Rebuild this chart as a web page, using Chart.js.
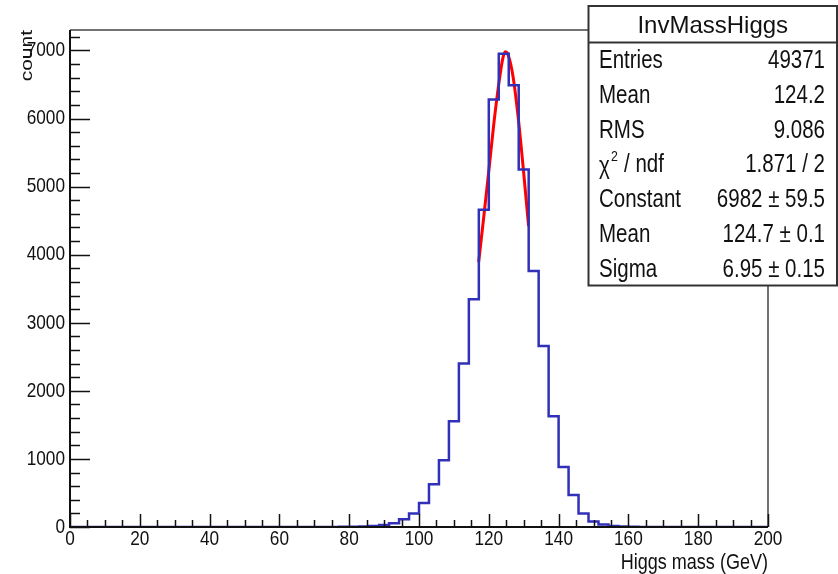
<!DOCTYPE html>
<html>
<head>
<meta charset="utf-8">
<script src="https://cdn.jsdelivr.net/npm/chart.js@4"></script>
<style>
  body { margin: 0; background: #fff; }
  #wrap { width: 838px; height: 574px; }
</style>
</head>
<body>
<div id="wrap"><canvas id="higgs" width="838" height="574"></canvas></div>
<script>
const SANS = '"Liberation Sans", Arial, sans-serif';
const SQUEEZE = 0.82; // the ROOT picture is squashed sideways

// histogram: 70 bins from 0 to 200 GeV
const nBins = 70;
const xMin = 0;
const xMax = 200;
const counts = [
  0, 0, 0, 0, 0, 0, 0, 0, 0, 0,
  0, 0, 0, 0, 0, 0, 0, 0, 0, 0,
  0, 0, 0, 0, 0, 0, 1, 2, 4, 8,
  15, 30, 55, 113, 197, 352, 627, 980, 1552, 2400,
  3344, 4660, 6280, 6952, 6490, 5250, 3760, 2660, 1625, 880,
  470, 197, 80, 35, 15, 6, 3, 1, 0, 0,
  0, 0, 0, 0, 0, 0, 0, 0, 0, 0
];

// gaussian fit curve
const fitX = [117.1, 118.5, 120, 121.5, 123, 124, 124.7, 125.5, 127, 128.5, 130, 131.4];
const fitY = [3890, 4530, 5230, 5950, 6560, 6880, 6980, 6940, 6600, 5980, 5200, 4420];

const yTicks = [0, 1000, 2000, 3000, 4000, 5000, 6000, 7000];
const xTicks = [0, 20, 40, 60, 80, 100, 120, 140, 160, 180, 200];

const statTitle = 'InvMassHiggs';
const statLabels = ['Entries', 'Mean', 'RMS', 'chi2', 'Constant', 'Mean', 'Sigma'];
const statValues = ['49371', '124.2', '9.086', '1.871 / 2', '6982 \u00b1 59.5', '124.7 \u00b1 0.1', '6.95 \u00b1 0.15'];

const edges = [];
for (let i = 0; i <= nBins; i++) edges.push(xMin + i * (xMax - xMin) / nBins);
const histPts = counts.map((c, i) => ({x: edges[i], y: c}));
histPts.push({x: xMax, y: counts[nBins - 1]});
const fitPts = fitX.map((x, i) => ({x: x, y: fitY[i]}));

function squeezed(ctx, text, x, y, align, size) {
  ctx.save();
  ctx.translate(x, y);
  ctx.scale(SQUEEZE, 1);
  ctx.font = size + 'px ' + SANS;
  ctx.textAlign = align;
  ctx.fillText(text, 0, 0);
  ctx.restore();
}

const rootFrame = {
  id: 'rootFrame',
  afterDatasetsDraw(chart) {
    const {ctx, chartArea: a, scales: {x, y}} = chart;
    ctx.save();
    // frame
    ctx.strokeStyle = '#444';
    ctx.lineWidth = 1.5;
    ctx.beginPath();
    ctx.moveTo(a.left, a.top);
    ctx.lineTo(a.right, a.top);
    ctx.lineTo(a.right, a.bottom);
    ctx.stroke();
    // axes
    ctx.strokeStyle = '#111';
    ctx.lineWidth = 2;
    ctx.beginPath();
    ctx.moveTo(a.left, a.top);
    ctx.lineTo(a.left, a.bottom);
    ctx.lineTo(a.right, a.bottom);
    ctx.stroke();
    // ticks inside the frame
    ctx.lineWidth = 1.5;
    ctx.beginPath();
    for (let v = 0; v <= 7200; v += 200) {
      const py = Math.round(y.getPixelForValue(v)) + 0.5;
      const len = v % 1000 === 0 ? 20 : 10;
      ctx.moveTo(a.left, py);
      ctx.lineTo(a.left + len, py);
    }
    for (let v = 0; v <= 200; v += 5) {
      const px = Math.round(x.getPixelForValue(v)) + 0.5;
      const len = v % 20 === 0 ? 13 : 7;
      ctx.moveTo(px, a.bottom);
      ctx.lineTo(px, a.bottom - len);
    }
    ctx.stroke();
    // tick labels, taken from the scales
    ctx.fillStyle = '#111';
    ctx.textBaseline = 'middle';
    y.ticks.forEach(t => squeezed(ctx, String(t.value), a.left - 5, y.getPixelForValue(t.value), 'right', 21));
    ctx.textBaseline = 'top';
    x.ticks.forEach(t => squeezed(ctx, String(t.value), x.getPixelForValue(t.value), a.bottom + 2, 'center', 21));
    // axis titles
    ctx.textBaseline = 'alphabetic';
    squeezed(ctx, 'Higgs mass (GeV)', a.right, 569, 'right', 22);
    ctx.translate(27, a.top);
    ctx.rotate(-Math.PI / 2);
    ctx.scale(1, SQUEEZE);
    ctx.font = '21px ' + SANS;
    ctx.textAlign = 'right';
    ctx.textBaseline = 'middle';
    ctx.fillText('count', 0, 0);
    ctx.restore();
  },
  afterDraw(chart) {
    const ctx = chart.ctx;
    const L = 588.5, T = 6, R = 837, B = 285.5;
    ctx.save();
    ctx.fillStyle = '#fff';
    ctx.fillRect(L, T, R - L, B - T);
    ctx.strokeStyle = '#333';
    ctx.lineWidth = 2;
    ctx.strokeRect(L, T, R - L, B - T);
    ctx.beginPath();
    ctx.moveTo(L, 42.5);
    ctx.lineTo(R, 42.5);
    ctx.stroke();
    ctx.fillStyle = '#111';
    ctx.textBaseline = 'alphabetic';
    ctx.font = '24px ' + SANS;
    ctx.textAlign = 'center';
    ctx.fillText(statTitle, (L + R) / 2, 33);
    statLabels.forEach((lab, i) => {
      const by = 68 + i * 34.8;
      if (lab === 'chi2') {
        squeezed(ctx, '\u03c7', 599, by + 2, 'left', 25);
        squeezed(ctx, '2', 611, by - 11, 'left', 15);
        squeezed(ctx, '/ ndf', 624, by, 'left', 25);
      } else {
        squeezed(ctx, lab, 599, by, 'left', 25);
      }
      squeezed(ctx, statValues[i], 825, by, 'right', 25);
    });
    ctx.restore();
  }
};

new Chart(document.getElementById('higgs'), {
  type: 'line',
  data: {
    datasets: [
      {
        data: histPts,
        borderColor: '#3030b8',
        borderWidth: 2.5,
        pointRadius: 0,
        stepped: 'before',
        fill: false
      },
      {
        data: fitPts,
        borderColor: '#ff0000',
        borderWidth: 3,
        pointRadius: 0,
        cubicInterpolationMode: 'monotone',
        fill: false
      }
    ]
  },
  options: {
    responsive: false,
    animation: false,
    events: [],
    layout: {padding: {top: 30, right: 70, left: 0, bottom: 0}},
    plugins: {legend: {display: false}, tooltip: {enabled: false}},
    scales: {
      x: {
        type: 'linear',
        min: xMin,
        max: xMax,
        afterFit: s => { s.height = 47; },
        afterBuildTicks: s => { s.ticks = xTicks.map(v => ({value: v})); },
        grid: {display: false, drawTicks: false},
        border: {display: false},
        ticks: {display: false}
      },
      y: {
        min: 0,
        max: 7300,
        afterFit: s => { s.width = 70; },
        afterBuildTicks: s => { s.ticks = yTicks.map(v => ({value: v})); },
        grid: {display: false, drawTicks: false},
        border: {display: false},
        ticks: {display: false}
      }
    }
  },
  plugins: [rootFrame]
});
</script>
</body>
</html>
